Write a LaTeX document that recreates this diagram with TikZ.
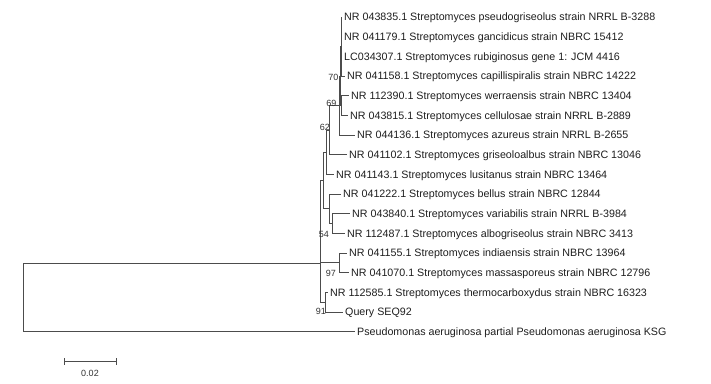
\documentclass[tikz,border=0pt]{standalone}
\usepackage{fontspec}
\setmainfont{Liberation Sans}
\begin{document}
\begin{tikzpicture}[x=1pt,y=-1pt,
  br/.style={draw=black!70, line width=0.9pt},
  leaf/.style={anchor=west, inner xsep=2.5pt, inner ysep=0pt, text height=7.7pt, text depth=0pt, font=\fontsize{10.7}{12}\selectfont, text=black!88},
  boot/.style={anchor=east, inner sep=0pt, text height=6.5pt, text depth=0pt, font=\fontsize{9}{10}\selectfont, text=black!80}]
\fill[white] (0,0) rectangle (711,383);
\useasboundingbox (0,0) rectangle (711,383);
% internal nodes
\coordinate (R) at (23,297.3);
\coordinate (S) at (320.5,263);
\coordinate (U) at (323,180.5);
\coordinate (N9) at (326,152.2);
\coordinate (N62) at (329.5,130);
\coordinate (N69) at (339,105.5);
\coordinate (N70) at (340.2,76);
\coordinate (P4) at (341,46.5);
\coordinate (C56) at (341,105.5);
\coordinate (N10) at (329.5,208.75);
\coordinate (N54) at (332,223.5);
\coordinate (N97) at (339,262.8);
\coordinate (N91) at (325,302.2);
% leaves
\node[leaf] (l1) at (341.5,17) {NR 043835.1 Streptomyces pseudogriseolus strain NRRL B-3288};
\node[leaf] (l2) at (341.5,36.67) {NR 041179.1 Streptomyces gancidicus strain NBRC 15412};
\node[leaf] (l3) at (341.5,56.33) {LC034307.1 Streptomyces rubiginosus gene 1: JCM 4416};
\node[leaf] (l4) at (344.5,76) {NR 041158.1 Streptomyces capillispiralis strain NBRC 14222};
\node[leaf] (l5) at (348.5,95.67) {NR 112390.1 Streptomyces werraensis strain NBRC 13404};
\node[leaf] (l6) at (347.5,115.33) {NR 043815.1 Streptomyces cellulosae strain NRRL B-2889};
\node[leaf] (l7) at (354.5,135) {NR 044136.1 Streptomyces azureus strain NRRL B-2655};
\node[leaf] (l8) at (346.5,154.67) {NR 041102.1 Streptomyces griseoloalbus strain NBRC 13046};
\node[leaf] (l9) at (333.5,174.33) {NR 041143.1 Streptomyces lusitanus strain NBRC 13464};
\node[leaf] (l10) at (340.5,194) {NR 041222.1 Streptomyces bellus strain NBRC 12844};
\node[leaf] (l11) at (349.5,213.67) {NR 043840.1 Streptomyces variabilis strain NRRL B-3984};
\node[leaf] (l12) at (344.5,233.33) {NR 112487.1 Streptomyces albogriseolus strain NBRC 3413};
\node[leaf] (l13) at (346.5,253) {NR 041155.1 Streptomyces indiaensis strain NBRC 13964};
\node[leaf] (l14) at (348.5,272.67) {NR 041070.1 Streptomyces massasporeus strain NBRC 12796};
\node[leaf] (l15) at (327.5,292.33) {NR 112585.1 Streptomyces thermocarboxydus strain NBRC 16323};
\node[leaf] (l16) at (342.5,312) {Query SEQ92};
\node[leaf] (l17) at (354.5,331.67) {Pseudomonas aeruginosa partial Pseudomonas aeruginosa KSG};
% branches
\draw[br] (R) |- (S);
\draw[br] (R) |- (l17.west);
\draw[br] (S) |- (U);
\draw[br] (S) |- (N97);
\draw[br] (S) |- (N91);
\draw[br] (U) |- (N9);
\draw[br] (U) |- (N10);
\draw[br] (N9) |- (N62);
\draw[br] (N9) |- (l9.west);
\draw[br] (N62) |- (N69);
\draw[br] (N62) |- (l8.west);
\draw[br] (N69) |- (N70);
\draw[br] (N69) |- (l7.west);
\draw[br] (N70) |- (P4);
\draw[br] (N70) |- (C56);
\draw[br] (P4) |- (l1.west);
\draw[br] (P4) |- (l2.west);
\draw[br] (P4) |- (l3.west);
\draw[br] (P4) |- (l4.west);
\draw[br] (C56) |- (l5.west);
\draw[br] (C56) |- (l6.west);
\draw[br] (N10) |- (l10.west);
\draw[br] (N10) |- (N54);
\draw[br] (N54) |- (l11.west);
\draw[br] (N54) |- (l12.west);
\draw[br] (N97) |- (l13.west);
\draw[br] (N97) |- (l14.west);
\draw[br] (N91) |- (l15.west);
\draw[br] (N91) |- (l16.west);
% bootstrap values
\node[boot] (b70) at (338.5,77) {70};
\node[boot] (b69) at (336.5,103) {69};
\node[boot] (b62) at (330,127) {62};
\node[boot] (b54) at (329,234) {54};
\node[boot] (b97) at (336,273) {97};
\node[boot] (b91) at (326,311) {91};
% scale bar
\coordinate (sb1) at (64,361);
\coordinate (sb2) at (116,361);
\draw[br] (sb1) -- (sb2);
\draw[br] ([yshift=-3.5pt]sb1) -- ([yshift=3.5pt]sb1);
\draw[br] ([yshift=-3.5pt]sb2) -- ([yshift=3.5pt]sb2);
\node[inner sep=0pt, text height=6.5pt, text depth=0pt, font=\fontsize{9}{10}\selectfont, text=black!80] (sbl) at (90,373) {0.02};
\end{tikzpicture}
\end{document}
